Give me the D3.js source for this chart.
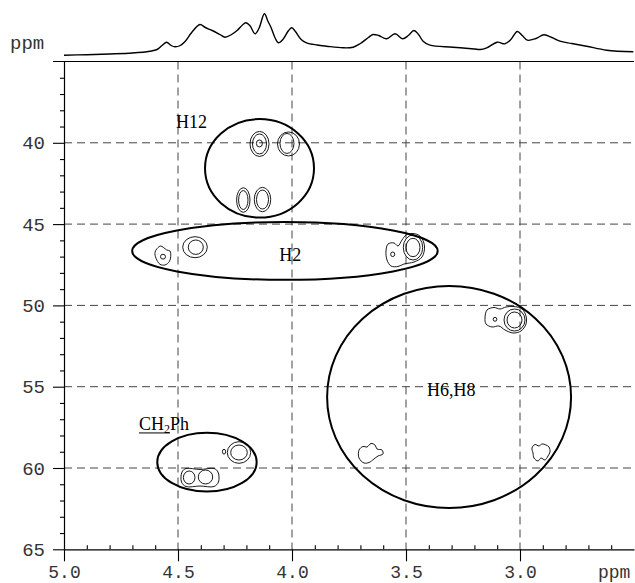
<!DOCTYPE html>
<html><head><meta charset="utf-8">
<script src="https://cdn.jsdelivr.net/npm/d3@7"></script>
<style>
html,body{margin:0;padding:0;background:#fff;}
svg{display:block;}
</style></head><body>
<svg id="chart" width="635" height="583"></svg>
<script>
// ---- 1D projection (top trace) ----
const projPpm = [5.000,4.900,4.800,4.700,4.623,4.592,4.570,4.550,4.530,4.513,4.490,4.469,4.440,4.404,4.380,4.350,4.316,4.294,4.265,4.241,4.215,4.202,4.185,4.162,4.145,4.121,4.105,4.092,4.075,4.060,4.040,4.015,4.001,3.985,3.960,3.936,3.890,3.848,3.776,3.732,3.700,3.665,3.645,3.620,3.585,3.548,3.514,3.490,3.465,3.445,3.425,3.395,3.294,3.200,3.175,3.146,3.100,3.066,3.040,3.012,2.990,2.968,2.930,2.895,2.860,2.825,2.773,2.708,2.620,2.503];
const projInt = [6.3,6.8,7.5,8.5,10.3,12,16,19.3,16,14.7,16,20,29,37,34,31,27,24.3,27,31,37,38.7,36,27.7,33,47.7,40,34,24,18.7,22,31,33.7,30,22,18.7,16.5,15.3,13.7,14.3,18,24,27,26,22.7,27.7,22.7,26,31,27,20.3,16.3,14.3,12.5,12,13.7,19.3,17.7,22,30,26,21.3,23,26.7,24,20.3,18,15.3,11.3,9.7];

// ---- axes ----
const xMajorTicks = [5.0,4.5,4.0,3.5,3.0];
const yMajorTicks = [40,45,50,55,60,65];
const gridX = [4.5,4.0,3.5,3.0];
const gridY = [40,45,50,55,60];

// ---- region annotations ----
const regionCx = [4.1425, 4.031, 3.311, 4.373];
const regionCy = [41.57, 46.65, 55.63, 59.64];
const regionRx = [0.239, 0.670, 0.535, 0.218];
const regionRy = [3.03, 1.78, 6.83, 1.81];
const labelText = ["H12", "H2", "H6,H8"];
const labelX = [4.509, 4.056, 3.408];
const labelY = [39.09, 47.25, 55.57];
const ch2phX = 4.671, ch2phY = 57.66;

// ---- elliptical contour rings (ppm) ----
const ringCx = [4.1425,4.1425,4.143,4.0154,4.022,4.2136,4.2136,4.1294,4.1294,4.4254,4.422,4.5658,3.4693,3.4693,3.5583,3.0241,3.0241,3.1096,4.2325,4.2325,4.2982,4.4509,4.3794];
const ringCy = [40.07,40.07,40.04,40.07,40.04,43.52,43.52,43.49,43.49,46.42,46.42,47.005,46.439,46.439,46.857,50.898,50.898,50.855,59.047,59.047,58.998,60.584,60.553];
const ringRx = [0.0417,0.0307,0.0132,0.0482,0.0307,0.0294,0.0206,0.036,0.0263,0.054,0.033,0.011,0.0425,0.0307,0.009,0.046,0.0329,0.008,0.0513,0.0364,0.007,0.0254,0.0316];
const ringRy = [0.769,0.615,0.215,0.738,0.615,0.756,0.584,0.75,0.584,0.646,0.443,0.15,0.769,0.566,0.14,0.677,0.492,0.12,0.664,0.461,0.15,0.40,0.43];

// ---- irregular contour outlines (ppm pairs) ----
const blobs = [
  [[4.5908,46.488],[4.5759,46.347],[4.5645,46.427],[4.5496,46.593],[4.5351,46.654],[4.5320,47.005],[4.5382,47.312],[4.5570,47.515],[4.5789,47.472],[4.5965,47.103],[4.6009,46.734]],
  [[3.4737,45.578],[3.4386,45.732],[3.4189,46.347],[3.4298,47.023],[3.4649,47.331],[3.5088,47.454],[3.5351,47.608],[3.5658,47.577],[3.5833,47.208],[3.5877,46.654],[3.5789,46.224],[3.5526,46.162],[3.5351,46.347],[3.5175,45.978],[3.5,45.670]],
  [[3.1535,50.775],[3.1447,50.283],[3.1140,50.129],[3.0877,50.221],[3.0614,50.098],[3.0263,50.068],[2.9912,50.221],[2.9737,50.652],[2.9737,51.144],[2.9956,51.574],[3.0307,51.697],[3.0658,51.513],[3.0921,51.267],[3.1228,51.328],[3.1491,51.144]],
  [[3.7061,58.893],[3.6886,58.677],[3.6711,58.708],[3.6535,58.493],[3.6360,58.585],[3.6272,58.831],[3.6053,58.893],[3.6009,59.139],[3.6228,59.262],[3.6404,59.446],[3.6623,59.662],[3.6842,59.692],[3.7061,59.385]],
  [[2.9474,58.770],[2.9342,58.555],[2.9167,58.647],[2.9035,58.524],[2.8860,58.585],[2.8728,58.708],[2.8684,59.016],[2.8772,59.262],[2.8904,59.508],[2.9079,59.385],[2.9211,59.569],[2.9386,59.385],[2.9430,59.077]],
  [[4.4825,60.246],[4.4649,60.031],[4.4035,60.092],[4.3421,60.031],[4.3246,60.246],[4.3224,60.861],[4.3421,61.138],[4.4035,61.107],[4.4649,61.138],[4.4846,60.861]]
];

const svg = d3.select("#chart");
const x = d3.scaleLinear().domain([5.0, 2.5]).range([64, 634]);
const y = d3.scaleLinear().domain([35, 65]).range([61.5, 549.3]);
const yi = d3.scaleLinear().domain([0, 60]).range([61.5, 1.5]);

const monoFont = "'Liberation Mono', 'DejaVu Sans Mono', monospace";
const serifFont = "'Liberation Serif', 'Times New Roman', serif";

// grid
svg.append("g").selectAll("line").data(gridX).join("line")
  .attr("x1", d => x(d)).attr("x2", d => x(d))
  .attr("y1", y(35)).attr("y2", y(65))
  .attr("stroke", "#444").attr("stroke-width", 1).attr("stroke-dasharray", "8,5");
svg.append("g").selectAll("line").data(gridY).join("line")
  .attr("x1", x(5.0)).attr("x2", x(2.5))
  .attr("y1", d => y(d)).attr("y2", d => y(d))
  .attr("stroke", "#444").attr("stroke-width", 1).attr("stroke-dasharray", "8,5");

// top frame line
svg.append("line").attr("x1", x(5.0) - 11).attr("x2", x(2.5))
  .attr("y1", y(35)).attr("y2", y(35)).attr("stroke", "#000").attr("stroke-width", 1.2);

// left axis major
const gy = svg.append("g").attr("transform", `translate(${x(5.0)},0)`)
  .call(d3.axisLeft(y).tickValues(yMajorTicks).tickSize(11).tickSizeOuter(0).tickPadding(8).tickFormat(d3.format("d")));
// left axis minor
svg.append("g").attr("transform", `translate(${x(5.0)},0)`)
  .call(d3.axisLeft(y).tickValues(d3.range(36, 65, 1).filter(v => v % 5 !== 0)).tickSize(4).tickSizeOuter(0).tickFormat(""))
  .select(".domain").remove();
// bottom axis major
const gx = svg.append("g").attr("transform", `translate(0,${y(65)})`)
  .call(d3.axisBottom(x).tickValues(xMajorTicks).tickSize(12).tickSizeOuter(0).tickFormat(d3.format(".1f")));
// bottom axis minor (upward)
svg.append("g").attr("transform", `translate(0,${y(65)})`)
  .call(d3.axisTop(x).tickValues(d3.range(49, 25, -1).map(v => v / 10).filter(v => Math.round(v * 10) % 5 !== 0)).tickSize(4).tickSizeOuter(0).tickFormat(""))
  .select(".domain").remove();

svg.selectAll(".domain").attr("stroke", "#000").attr("stroke-width", 1.2);
svg.selectAll(".tick line").attr("stroke", "#000").attr("stroke-width", 1.1);
gy.selectAll(".tick text").attr("font-family", monoFont).attr("font-size", 19).attr("fill", "#333");
gx.selectAll(".tick text").attr("font-family", monoFont).attr("font-size", 18).attr("fill", "#333")
  .attr("dy", null).attr("y", 29);

// ppm unit labels
svg.append("text").attr("x", x(5.0) - 54).attr("y", y(35) - 13).text("ppm")
  .attr("font-family", monoFont).attr("font-size", 19).attr("fill", "#333");
svg.append("text").attr("x", x(2.5) - 36).attr("y", y(65) + 29).text("ppm")
  .attr("font-family", monoFont).attr("font-size", 18).attr("fill", "#333");

// 1D projection trace
const proj = projPpm.map((p, i) => [p, projInt[i]]);
svg.append("path").datum(proj)
  .attr("d", d3.line().x(d => x(d[0])).y(d => yi(d[1])).curve(d3.curveCatmullRom.alpha(0.5)))
  .attr("fill", "none").attr("stroke", "#000").attr("stroke-width", 1.4);

// contour rings
const rings = ringCx.map((cx, i) => ({cx, cy: ringCy[i], rx: ringRx[i], ry: ringRy[i]}));
svg.append("g").selectAll("ellipse").data(rings).join("ellipse")
  .attr("cx", d => x(d.cx)).attr("cy", d => y(d.cy))
  .attr("rx", d => Math.abs(x(d.cx + d.rx) - x(d.cx)))
  .attr("ry", d => Math.abs(y(d.cy + d.ry) - y(d.cy)))
  .attr("fill", "none").attr("stroke", "#000").attr("stroke-width", 0.9);

// irregular contours
const blobLine = d3.line().x(d => x(d[0])).y(d => y(d[1])).curve(d3.curveCatmullRomClosed.alpha(0.5));
svg.append("g").selectAll("path").data(blobs).join("path")
  .attr("d", blobLine).attr("fill", "none").attr("stroke", "#000").attr("stroke-width", 0.9);

// region ellipses
const regions = regionCx.map((cx, i) => ({cx, cy: regionCy[i], rx: regionRx[i], ry: regionRy[i]}));
svg.append("g").selectAll("ellipse").data(regions).join("ellipse")
  .attr("cx", d => x(d.cx)).attr("cy", d => y(d.cy))
  .attr("rx", d => Math.abs(x(d.cx + d.rx) - x(d.cx)))
  .attr("ry", d => Math.abs(y(d.cy + d.ry) - y(d.cy)))
  .attr("fill", "none").attr("stroke", "#000").attr("stroke-width", 2);

// region labels
svg.append("g").selectAll("text").data(labelText).join("text")
  .attr("x", (d, i) => x(labelX[i])).attr("y", (d, i) => y(labelY[i]))
  .text(d => d).attr("font-family", serifFont).attr("font-size", 18).attr("fill", "#000");

const ch = svg.append("text").attr("x", x(ch2phX)).attr("y", y(ch2phY))
  .attr("font-family", serifFont).attr("font-size", 18).attr("fill", "#000");
ch.append("tspan").text("CH");
ch.append("tspan").attr("font-size", 12).attr("dy", 3).text("2");
ch.append("tspan").attr("dy", -3).text("Ph");
// underline under CH2
const chNode = ch.node();
const ext0 = chNode.getStartPositionOfChar(0).x;
const ext1 = chNode.getEndPositionOfChar(2).x;
svg.append("line").attr("x1", ext0).attr("x2", ext1)
  .attr("y1", y(ch2phY) + 3).attr("y2", y(ch2phY) + 3)
  .attr("stroke", "#000").attr("stroke-width", 1);
</script>
</body></html>
